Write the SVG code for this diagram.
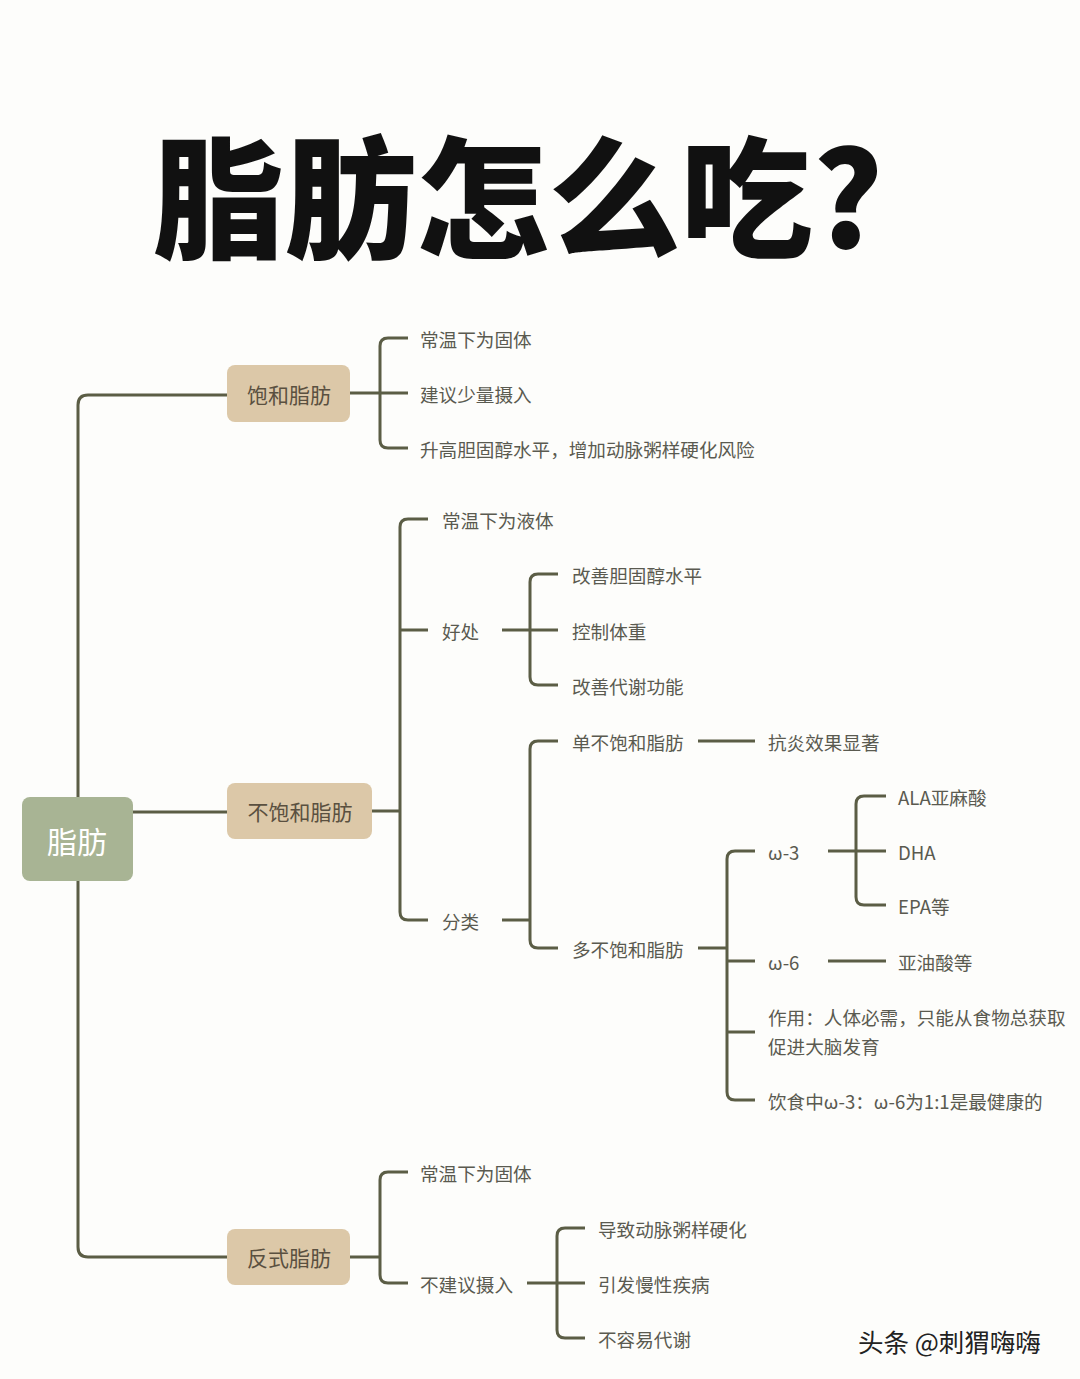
<svg xmlns="http://www.w3.org/2000/svg" width="1080" height="1379" viewBox="0 0 1080 1379">
<style>
.c{fill:none;stroke:#5b5d45;stroke-width:3;stroke-linejoin:round}
.t{font-family:"Noto Sans CJK SC","Noto Sans",sans-serif;font-size:18.6px;fill:#5a5a50;dominant-baseline:central}
.n{font-family:"Noto Sans CJK SC",sans-serif;font-size:21px;fill:#5a5040;text-anchor:middle;dominant-baseline:central}
</style>
<rect width="1080" height="1379" fill="#fdfdfb"/>
<text x="518" y="248" font-family="'Noto Sans CJK SC',sans-serif" font-weight="900" font-size="132" fill="#111" text-anchor="middle">脂肪怎么吃?</text>
<g id="connectors">
<path class="c" d="M228,395 H88 Q78,395 78,405 V1247 Q78,1257 88,1257 H228 M133,812 H228"/>
<path class="c" d="M350,393 H380 M408,338 H388 Q380,338 380,346 V440 Q380,448 388,448 H408 M380,393 H408"/>
<path class="c" d="M372,811 H400 M428,519 H408 Q400,519 400,527 V912 Q400,920 408,920 H428 M400,630 H428"/>
<path class="c" d="M502,630 H558 M558,574 H538 Q530,574 530,582 V677 Q530,685 538,685 H558"/>
<path class="c" d="M502,920 H530 M558,741 H538 Q530,741 530,749 V940 Q530,948 538,948 H558"/>
<path class="c" d="M698,741 H755"/>
<path class="c" d="M698,948 H727 M755,851 H735 Q727,851 727,859 V1092 Q727,1100 735,1100 H755 M727,961 H755 M727,1032 H755"/>
<path class="c" d="M828,851 H886 M886,796 H864 Q856,796 856,804 V897 Q856,905 864,905 H886"/>
<path class="c" d="M828,961 H886"/>
<path class="c" d="M350,1257 H380 M408,1172 H388 Q380,1172 380,1180 V1275 Q380,1283 388,1283 H408"/>
<path class="c" d="M527,1283 H585 M585,1228 H565 Q557,1228 557,1236 V1330 Q557,1338 565,1338 H585"/>
</g>
<g id="root"><rect x="22" y="797" width="111" height="84" rx="8" fill="#a8b494"/><text x="77" y="840" class="n" style="fill:#fff;font-size:30px">脂肪</text></g>
<g id="sat"><rect x="227" y="365" width="123" height="57" rx="8" fill="#dcc8a8"/><text x="289" y="394" class="n">饱和脂肪</text></g>
<g id="unsat"><rect x="227" y="783" width="145" height="56" rx="8" fill="#dcc8a8"/><text x="300" y="811" class="n">不饱和脂肪</text></g>
<g id="trans"><rect x="227" y="1229" width="123" height="56" rx="8" fill="#dcc8a8"/><text x="289" y="1257" class="n">反式脂肪</text></g>
<g id="leaves">
<text class="t" x="420" y="338">常温下为固体</text>
<text class="t" x="420" y="393">建议少量摄入</text>
<text class="t" x="420" y="448">升高胆固醇水平，增加动脉粥样硬化风险</text>
<text class="t" x="442" y="519">常温下为液体</text>
<text class="t" x="442" y="630">好处</text>
<text class="t" x="442" y="920">分类</text>
<text class="t" x="572" y="574">改善胆固醇水平</text>
<text class="t" x="572" y="630">控制体重</text>
<text class="t" x="572" y="685">改善代谢功能</text>
<text class="t" x="572" y="741">单不饱和脂肪</text>
<text class="t" x="572" y="948">多不饱和脂肪</text>
<text class="t" x="768" y="741">抗炎效果显著</text>
<text class="t" x="768" y="851">ω-3</text>
<text class="t" x="768" y="961">ω-6</text>
<text class="t" x="768" y="1016">作用：人体必需，只能从食物总获取</text>
<text class="t" x="768" y="1045">促进大脑发育</text>
<text class="t" x="768" y="1100">饮食中ω-3：ω-6为1:1是最健康的</text>
<text class="t" x="898" y="796">ALA亚麻酸</text>
<text class="t" x="898" y="851">DHA</text>
<text class="t" x="898" y="905">EPA等</text>
<text class="t" x="898" y="961">亚油酸等</text>
<text class="t" x="420" y="1172">常温下为固体</text>
<text class="t" x="420" y="1283">不建议摄入</text>
<text class="t" x="598" y="1228">导致动脉粥样硬化</text>
<text class="t" x="598" y="1283">引发慢性疾病</text>
<text class="t" x="598" y="1338">不容易代谢</text>
</g>
<text x="858" y="1340" font-family="'Noto Sans CJK SC',sans-serif" font-size="25.5" fill="#222" dominant-baseline="central">头条 @刺猬嗨嗨</text>
</svg>
